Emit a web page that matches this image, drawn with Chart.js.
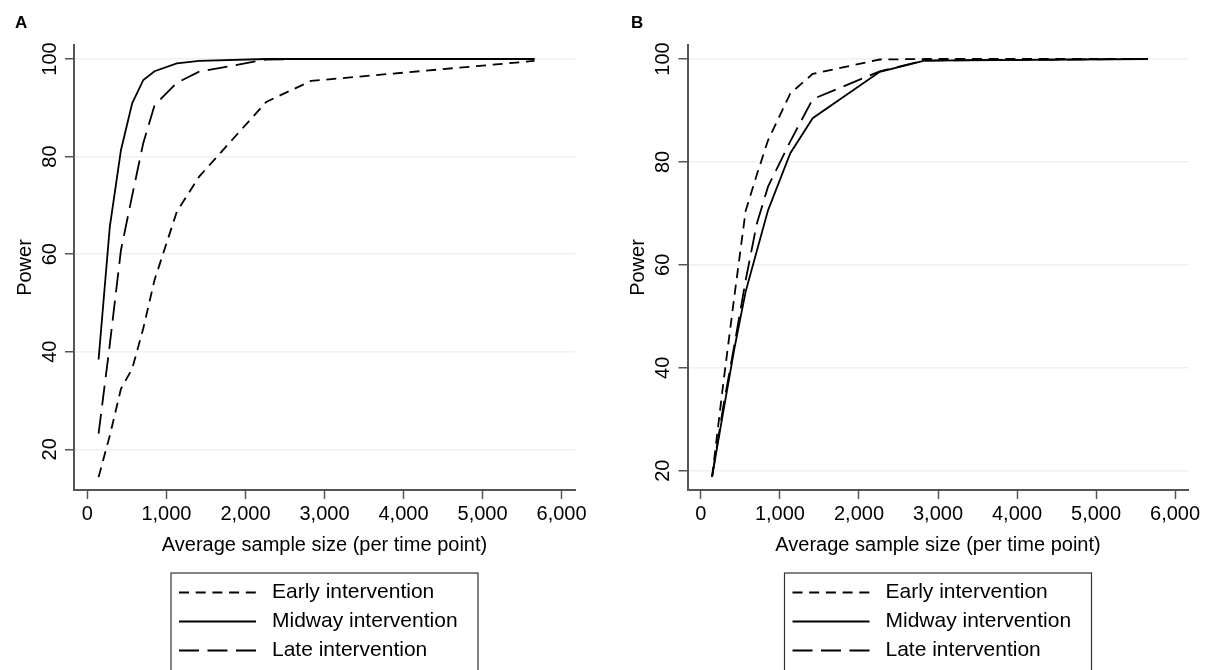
<!DOCTYPE html>
<html>
<head>
<meta charset="utf-8">
<script src="https://cdn.jsdelivr.net/npm/chart.js@4.4.1/dist/chart.umd.min.js"></script>
<style>
  html, body { margin: 0; padding: 0; background: #fff; }
  .wrap { position: relative; width: 1212px; height: 670px; overflow: hidden; }
  .panel { position: absolute; top: 0; width: 606px; height: 670px; }
</style>
</head>
<body>
<div class="wrap">
  <div class="panel" style="left:0"><canvas id="chartA" width="606" height="670"></canvas></div>
  <div class="panel" style="left:606px"><canvas id="chartB" width="606" height="670"></canvas></div>
</div>
<script>
// --- Data ---
const SAMPLE_SIZES = [141, 283, 424, 566, 707, 849, 1131, 1414, 2263, 2828, 5657];
const SERIES_LABELS = ['Early intervention', 'Midway intervention', 'Late intervention'];

// Panel A
const earlyA  = [14.3, 22.8, 32.4, 36.5, 44.8, 54.7, 68.7, 75.9, 91.2, 95.5, 99.6];
const midwayA = [38.4, 65.6, 81.3, 90.9, 95.7, 97.5, 99.1, 99.6, 100, 100, 100];
const lateA   = [23.2, 41.5, 60.8, 72, 82.8, 90.5, 95.1, 97.4, 99.9, 100, 100];

// Panel B
const earlyB  = [18.8, 37, 54, 70.5, 77.5, 84.2, 93.3, 97.1, 99.9, 100, 100];
const midwayB = [18.8, 31.5, 43.8, 54.8, 62.7, 70.6, 81.7, 88.5, 97.5, 99.7, 100];
const lateB   = [18.8, 32.5, 44.5, 57, 68, 75.2, 84, 92.2, 97.6, 99.7, 100];

// Ticks
const X_TICKS = [0, 1000, 2000, 3000, 4000, 5000, 6000];
const X_TICK_LABELS = ['0', '1,000', '2,000', '3,000', '4,000', '5,000', '6,000'];
const Y_TICKS = [20, 40, 60, 80, 100];
const Y_TICK_LABELS = ['20', '40', '60', '80', '100'];

// line styles: short dash, solid, long dash
const DASHES = [[10, 6.7], [], [20, 8.5]];

const FONT = '"Liberation Sans", Arial, Helvetica, sans-serif';
Chart.defaults.font.family = FONT;
Chart.defaults.color = '#000';

// --- Panel letter + Stata style legend box ---
const panelDecor = {
    id: 'panelDecor',
    afterDraw(chart, args, opts) {
        const { ctx, chartArea } = chart;
        ctx.save();
        ctx.fillStyle = '#000';
        ctx.font = `bold 17px ${FONT}`;
        ctx.textBaseline = 'alphabetic';
        ctx.fillText(opts.letter, opts.letterX, 28);

        const boxW = 307;
        const left = (chartArea.left + chartArea.right) / 2 - boxW / 2;
        ctx.strokeStyle = '#333';
        ctx.lineWidth = 1.2;
        ctx.strokeRect(left, 573, boxW, 130);

        ctx.font = `21px ${FONT}`;
        ctx.textBaseline = 'middle';
        chart.data.datasets.forEach((ds, i) => {
            const y = 592.5 + i * 29;
            ctx.strokeStyle = ds.borderColor;
            ctx.lineWidth = ds.borderWidth;
            ctx.setLineDash(ds.borderDash);
            ctx.beginPath();
            ctx.moveTo(left + 8, y);
            ctx.lineTo(left + 85, y);
            ctx.stroke();
            ctx.setLineDash([]);
            ctx.fillText(ds.label, left + 101, y);
        });
        ctx.restore();
    }
};

function makeDatasets(seriesList) {
    return seriesList.map((values, i) => ({
        label: SERIES_LABELS[i],
        data: SAMPLE_SIZES.map((x, j) => ({ x: x, y: values[j] })),
        borderColor: '#000',
        borderWidth: 1.8,
        borderDash: DASHES[i],
        pointRadius: 0,
        tension: 0,
        fill: false
    }));
}

function makePanel(canvasId, letter, letterX, seriesList, yMin, yMax, padLeft, padRight) {
    return new Chart(document.getElementById(canvasId), {
        type: 'line',
        data: { datasets: makeDatasets(seriesList) },
        plugins: [panelDecor],
        options: {
            responsive: false,
            animation: false,
            layout: { padding: { left: padLeft, right: padRight, top: 45, bottom: 110 } },
            plugins: {
                legend: { display: false },
                tooltip: { enabled: false },
                panelDecor: { letter: letter, letterX: letterX }
            },
            scales: {
                x: {
                    type: 'linear',
                    min: -170, max: 6170,
                    afterBuildTicks: s => { s.ticks = X_TICKS.map(v => ({ value: v })); },
                    afterFit: s => { s.height = 70; },
                    ticks: { callback: (v, i) => X_TICK_LABELS[i], font: { size: 20 }, padding: 3, maxRotation: 0 },
                    grid: { drawOnChartArea: false, tickLength: 9, tickColor: '#555', tickWidth: 1.5 },
                    border: { color: '#555', width: 2 },
                    title: { display: true, text: 'Average sample size (per time point)', font: { size: 20 }, padding: { top: 0, bottom: 3 } }
                },
                y: {
                    min: yMin, max: yMax,
                    afterBuildTicks: s => { s.ticks = Y_TICKS.map(v => ({ value: v })); },
                    afterFit: s => { s.width = 74; },
                    ticks: { callback: (v, i) => Y_TICK_LABELS[i], font: { size: 20 }, padding: -2, minRotation: 90, maxRotation: 90, crossAlign: 'center' },
                    grid: { color: '#eaf2f3', lineWidth: 1.5, tickLength: 9, tickColor: '#555', tickWidth: 1.5 },
                    border: { color: '#555', width: 2 },
                    title: { display: true, text: 'Power', font: { size: 20 }, padding: { top: 13, bottom: 0 } }
                }
            }
        }
    });
}

makePanel('chartA', 'A', 15, [earlyA, midwayA, lateA], 11.66, 102.87, 0, 31);
makePanel('chartB', 'B', 25, [earlyB, midwayB, lateB], 16.25, 102.72, 7.5, 23.5);
</script>
</body>
</html>
